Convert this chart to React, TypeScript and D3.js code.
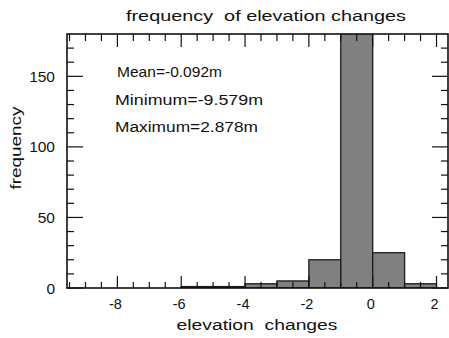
import * as d3 from 'd3'

// histogram bins (lower edge, width 1)
const binStarts = [-6, -5, -4, -3, -2, -1, 0, 1]
const binCounts = [1, 1, 3, 5, 20, 240, 25, 3]

const xMajorTicks = [-8, -6, -4, -2, 0, 2]
const yMajorTicks = [0, 50, 100, 150]

const statLines = ['Mean=-0.092m', 'Minimum=-9.579m', 'Maximum=2.878m']
const statWidths = [105, 148, 143]

const xMin = -9.579
const xMax = 2.36
const yMax = 180

const W = 449
const H = 338
const margin = { top: 34, right: 1, bottom: 50, left: 67 }
const font = '"Liberation Sans", Arial, sans-serif'

export default function App() {
  const x = d3.scaleLinear().domain([xMin, xMax]).range([margin.left, W - margin.right])
  const y = d3.scaleLinear().domain([0, yMax]).range([H - margin.bottom, margin.top])

  const [x0, x1] = x.range()
  const [y0, y1] = y.range()

  const xMinor = d3.range(-9.5, xMax, 0.5).filter(v => !xMajorTicks.includes(v))
  const yMinor = d3.range(0, yMax, 10).filter(v => !yMajorTicks.includes(v))

  const bins = binStarts.map((s, i) => ({ x0: s, x1: s + 1, n: binCounts[i] }))

  return (
    <div style={{ position: 'absolute', left: 0, top: 0 }}>
      <svg width={W} height={H} style={{ display: 'block', background: '#fff' }}>
        <defs>
          <clipPath id="plot">
            <rect x={x0} y={y1} width={x1 - x0} height={y0 - y1} />
          </clipPath>
        </defs>

        {/* bars */}
        <g clipPath="url(#plot)">
          {bins.map((b, i) => (
            <rect key={i} x={x(b.x0)} y={y(b.n)} width={x(b.x1) - x(b.x0)}
              height={y(0) - y(b.n)} fill="#808080" stroke="#1a1a1a" strokeWidth={1.3} />
          ))}
        </g>

        {/* ticks, all pointing inward */}
        <g stroke="#111" strokeWidth={1.2}>
          {xMajorTicks.map(v => (
            <g key={'xM' + v}>
              <line x1={x(v)} x2={x(v)} y1={y0} y2={y0 - 12} />
              <line x1={x(v)} x2={x(v)} y1={y1} y2={y1 + 13} />
            </g>
          ))}
          {xMinor.map(v => (
            <g key={'xm' + v}>
              <line x1={x(v)} x2={x(v)} y1={y0} y2={y0 - 6} />
              <line x1={x(v)} x2={x(v)} y1={y1} y2={y1 + 7} />
            </g>
          ))}
          {yMajorTicks.map(v => (
            <g key={'yM' + v}>
              <line x1={x0} x2={x0 + 16} y1={y(v)} y2={y(v)} />
              <line x1={x1} x2={x1 - 16} y1={y(v)} y2={y(v)} />
            </g>
          ))}
          {yMinor.map(v => (
            <g key={'ym' + v}>
              <line x1={x0} x2={x0 + 7} y1={y(v)} y2={y(v)} />
              <line x1={x1} x2={x1 - 7} y1={y(v)} y2={y(v)} />
            </g>
          ))}
        </g>

        {/* frame */}
        <rect x={x0} y={y1} width={x1 - x0} height={y0 - y1} fill="none" stroke="#111" strokeWidth={1.6} />

        {/* tick labels */}
        <g fontFamily={font} fill="#111">
          {xMajorTicks.map(v => (
            <text key={'xl' + v} x={x(v) - 2} y={y0 + 21} textAnchor="middle" fontSize={14.5}>{v}</text>
          ))}
          {yMajorTicks.map(v => (
            <text key={'yl' + v} x={55} y={y(v) + 5.5} textAnchor="end" fontSize={15.5}>{v}</text>
          ))}
        </g>

        {/* stats */}
        <g fontFamily={font} fontSize={14} fill="#111">
          {statLines.map((s, i) => (
            <text key={s} x={i === 0 ? 117 : 115} y={77 + i * 27.5}
              textLength={statWidths[i]} lengthAdjust="spacingAndGlyphs">{s}</text>
          ))}
        </g>

        {/* titles */}
        <text x={266} y={21} textAnchor="middle" fontFamily={font} fontSize={15.5}
          fill="#111" textLength={280} lengthAdjust="spacingAndGlyphs"
          style={{ whiteSpace: 'pre' }}>frequency  of elevation changes</text>
        <text x={257} y={330} textAnchor="middle" fontFamily={font} fontSize={15.5}
          fill="#111" textLength={161} lengthAdjust="spacingAndGlyphs"
          style={{ whiteSpace: 'pre' }}>elevation  changes</text>
        <text transform={`translate(21,148) rotate(-90)`} textAnchor="middle"
          fontFamily={font} fontSize={14} fill="#111"
          textLength={83} lengthAdjust="spacingAndGlyphs">frequency</text>
      </svg>
    </div>
  )
}
